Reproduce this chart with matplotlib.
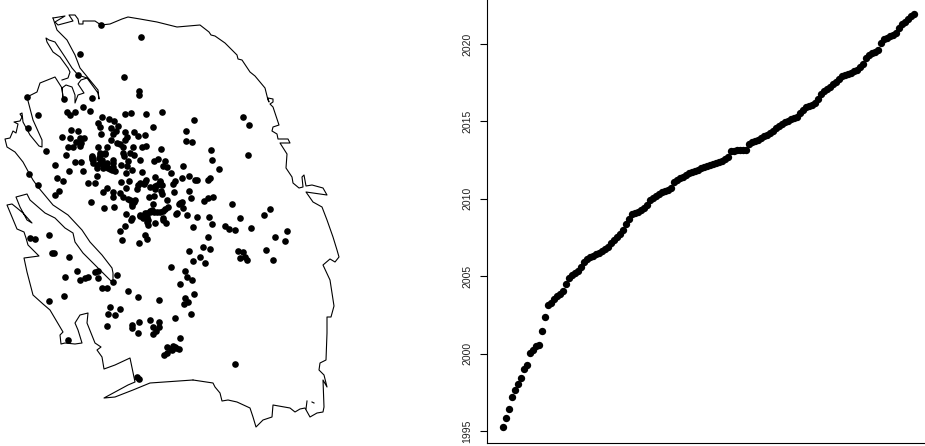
import matplotlib
matplotlib.use("Agg")
import matplotlib.pyplot as plt
import numpy as np

# map outline, in map units
coast_east = [(53,18),(65,16),(55,22),(58,25),(73,21),(69,15),(75,15),(78,19),(79,24),(83,24),(83,21),(95,21),(101,25),
    (110,24),(122,19),(128,17),(140,19),(157,22),(177,27),(200,25),(209,32),(211,35),(215,36),(225,43),(237,55),(238,59),
    (242,60),(250,72),(255,76),(265,88),(268,100),(269,102),(268,98),(273,99),(273,102),(270,104),(273,107),(275,113),
    (279,125),(273,127),(272,131),(277,134),(278,139),(288,139),(290,143),(280,143),(287,154),(286,168),(292,177),
    (293,183),(299,188),(303,187),(302,177),(304,175),(306,186),(312,185),(323,188),(327,195),(306,192),(313,202),
    (322,207),(327,220),(333,237),(337,250),(339,257),(335,262),(330,259),(323,265),(330,280),(334,306),(331,317),
    (327,317),(327,333),(326,360),(320,363),(319,370),(324,375),(327,387),(323,380),(324,407),(323,412),(317,413),
    (310,417),(305,408),(300,409),(295,412),(290,408),(273,405),(272,417),(263,420),(256,427),(253,417),(250,408),
    (237,402),(228,400),(222,401),(220,393),(215,387),(213,383),(193,380)]
coast_south_west = [(193,380),(150,383),(133,390),(115,397),(104,398),(128,385),(135,382),(130,358),(115,365),(104,369),
    (102,357),(97,350),(101,347),(95,343),(87,323),(88,313),(80,315),(75,323),(78,330),(82,343),(75,344),(65,343),
    (61,344),(60,335),(63,332),(50,310),(43,304),(33,295),(27,272),(24,258),(39,256),(33,250),(28,245),(26,238),
    (24,232),(17,229),(12,217),(7,205),(12,204),(17,208),(23,213),(32,223),(27,220),(20,207),(16,197),(27,194),
    (30,200),(45,213),(55,218),(65,228),(73,233),(75,242),(83,253),(100,270),(113,283),(113,273),(112,268),(102,255),
    (90,242),(82,230),(68,215),(53,205),(38,187),(33,180),(29,173)]
coast_north_west = [(29,173),(23,162),(15,152),(7,147),(5,139),(10,138),(13,131),(16,133),(18,124),(14,122),(20,121),
    (22,117),(20,114),(22,113),(23,122),(30,135),(39,146),(42,147),(42,140),(33,120),(27,97),(37,92),(40,83),(55,77),
    (62,88),(63,98),(62,88),(66,85),(72,87),(75,95),(75,103),(78,95),(84,93),(78,84),(81,80),(87,78),(98,93),(99,99),
    (98,90),(80,68),(75,55),(67,40),(57,30),(53,18)]
coast_channel = [(62,80),(68,78),(70,72),(68,68),(60,57),(53,52),(47,42),(46,38),(49,40),(55,42),(65,57),(72,68),(78,75),(87,78)]
coast_islet_a = [(307,401),(306,409)]
coast_islet_b = [(312,402),(314,403)]

# site locations, same map units
sites = [(101,25),(141,37),(80,54),(124,77),(139,91),(139,95),(78,75),(27,97),(64,99),(92,98),(38,115),(28,128),(46,151),
    (29,174),(38,185),(83,107),(90,111),(67,112),(70,115),(75,112),(125,114),(131,113),(146,114),(162,112),(194,120),
    (102,117),(109,119),(114,121),(98,123),(100,127),(111,128),(118,126),(116,131),(113,134),(125,132),(134,132),(153,127),
    (186,131),(71,130),(78,131),(101,134),(62,137),(70,138),(84,138),(80,138),(127,137),(138,136),(145,135),(111,140),
    (125,140),(186,141),(192,142),(76,142),(81,143),(68,147),(73,147),(80,146),(98,147),(107,147),(117,143),(120,144),
    (133,147),(123,147),(142,147),(146,146),(161,149),(66,155),(92,156),(100,155),(105,154),(123,153),(130,153),(134,155),
    (92,159),(99,158),(124,156),(140,160),(154,161),(158,159),(165,161),(55,165),(75,162),(81,162),(93,163),(102,163),
    (107,163),(113,163),(121,165),(128,161),(127,166),(183,166),(163,166),(167,167),(97,168),(103,168),(108,168),(112,170),
    (115,171),(69,171),(83,171),(132,170),(126,173),(142,172),(171,173),(97,176),(57,178),(63,181),(155,177),(189,176),
    (182,178),(197,180),(175,181),(160,181),(173,184),(121,182),(129,181),(146,180),(140,183),(144,184),(88,183),(95,183),
    (150,187),(162,185),(157,185),(126,188),(137,189),(155,189),(161,191),(107,188),(103,192),(113,192),(59,191),(55,195),
    (174,192),(189,191),(113,197),(120,193),(123,197),(128,199),(135,200),(149,197),(154,196),(167,200),(191,198),(91,202),
    (132,206),(153,204),(182,202),(179,204),(104,208),(114,207),(168,207),(183,208),(126,214),(163,211),(157,212),(150,211),
    (147,213),(140,216),(176,214),(187,215),(197,217),(163,218),(132,218),(243,117),(249,125),(211,150),(248,155),(212,160),
    (219,169),(195,180),(208,180),(210,178),(204,201),(208,198),(213,197),(232,204),(270,209),(264,215),(240,218),(209,217),
    (212,224),(225,226),(229,229),(235,230),(251,228),(193,227),(287,231),(275,237),(285,241),(208,237),(203,247),(210,249),
    (189,251),(266,250),(238,251),(243,252),(240,258),(245,257),(247,260),(273,260),(200,257),(193,261),(205,263),(171,267),
    (185,271),(187,277),(192,280),(180,284),(194,294),(185,298),(188,302),(184,304),(191,314),(175,318),(180,338),(175,347),
    (172,350),(179,349),(235,364),(181,203),(177,213),(49,235),(30,238),(35,239),(52,253),(54,253),(69,257),(77,271),(65,277),
    (95,272),(98,271),(88,277),(85,278),(80,280),(98,278),(117,275),(113,282),(102,288),(107,288),(128,291),(138,297),(159,300),
    (64,296),(49,301),(120,231),(125,226),(131,220),(143,216),(148,220),(148,225),(155,223),(163,220),(166,223),(122,240),
    (139,243),(145,235),(147,239),(110,307),(120,309),(108,314),(115,315),(107,326),(132,325),(132,328),(139,322),(138,333),
    (150,320),(159,322),(153,327),(159,327),(156,331),(153,334),(167,347),(173,346),(171,349),(176,348),(167,353),(164,355),
    (137,377),(139,379),(68,340)]
cluster_sites = [(100,153),(105,153),(92,157),(93,160),(102,160),(107,167),(110,169),(113,167),(100,163),(97,165),(103,165),
    (113,160),(140,215),(145,213),(150,212),(154,212),(160,212),(165,209),(147,217),(147,222),(152,210),(138,185),(145,182),
    (160,182),(155,186),(162,194),(130,200),(134,202),(132,204),(180,203),(143,218)]

# event dates in order of occurrence
event_years = [1995.26,1995.84,1996.42,1997.20,1997.65,1998.04,1998.42,1999.01,1999.26,2000.04,2000.23,2000.49,2000.56,
    2001.46,2002.36,2003.14,2003.27,2003.53,2003.72,2003.85,2004.04,2004.50,2004.88,2005.08,2005.21,2005.34,2005.59,
    2005.92,2006.11,2006.24,2006.30,2006.43,2006.50,2006.63,2006.76,2006.89,2007.14,2007.34,2007.53,2007.73,2007.98,
    2008.37,2008.70,2009.02,2009.08,2009.15,2009.28,2009.41,2009.60,2009.92,2010.05,2010.18,2010.31,2010.44,2010.50,
    2010.57,2010.70,2011.09,2011.21,2011.34,2011.41,2011.54,2011.67,2011.73,2011.80,2011.86,2011.99,2012.05,2012.12,
    2012.18,2012.25,2012.31,2012.38,2012.44,2012.57,2012.70,2013.09,2013.09,2013.15,2013.15,2013.15,2013.15,2013.54,
    2013.67,2013.73,2013.80,2013.93,2014.06,2014.12,2014.25,2014.38,2014.57,2014.70,2014.83,2014.96,2015.03,2015.16,
    2015.22,2015.28,2015.54,2015.74,2015.93,2015.99,2016.06,2016.19,2016.45,2016.77,2016.96,2017.09,2017.22,2017.42,
    2017.55,2017.74,2017.93,2018.00,2018.06,2018.13,2018.26,2018.32,2018.51,2018.71,2019.10,2019.29,2019.42,2019.48,
    2019.61,2020.06,2020.32,2020.39,2020.52,2020.58,2020.71,2021.03,2021.29,2021.42,2021.62,2021.81,2021.94]
year_ticks = [1995, 2000, 2005, 2010, 2015, 2020]

plt.rcParams['font.family'] = ['Liberation Sans', 'DejaVu Sans']
fig = plt.figure(figsize=(9.25, 4.46), dpi=100)

# left panel, the map
map_ax = fig.add_axes([0, 0, 350/925, 1])
for part in [coast_east, coast_south_west, coast_north_west, coast_channel, coast_islet_a, coast_islet_b]:
    xy = np.array(part)
    map_ax.plot(xy[:, 0], xy[:, 1], color="black", lw=0.8, solid_joinstyle="round")
site_xy = np.array(sites + cluster_sites)
map_ax.scatter(site_xy[:, 0], site_xy[:, 1], s=23, color="black", linewidths=0, zorder=3)
map_ax.set_xlim(0, 350)
map_ax.set_ylim(446, 0)
map_ax.axis("off")

# right panel, dates against rank
time_ax = fig.add_axes([487/925, 3/446, 438/925, 443/446])
rank = np.arange(len(event_years))
time_ax.scatter(rank, event_years, s=28, color="black", linewidths=0, clip_on=False)
time_ax.set_xlim(-5.33, 140.67)
time_ax.set_ylim(1994.225, 2022.84)
time_ax.spines["top"].set_visible(False)
time_ax.spines["right"].set_visible(False)
time_ax.spines["left"].set_linewidth(0.8)
time_ax.spines["bottom"].set_linewidth(0.8)
time_ax.set_xticks([])
time_ax.set_yticks(year_ticks)
time_ax.set_yticklabels([str(y) for y in year_ticks], rotation=90, va="center", fontsize=7.5, color="#222222")
time_ax.tick_params(axis="y", length=5.3, width=0.8, pad=5.5)

plt.savefig("out.png", dpi=100)
